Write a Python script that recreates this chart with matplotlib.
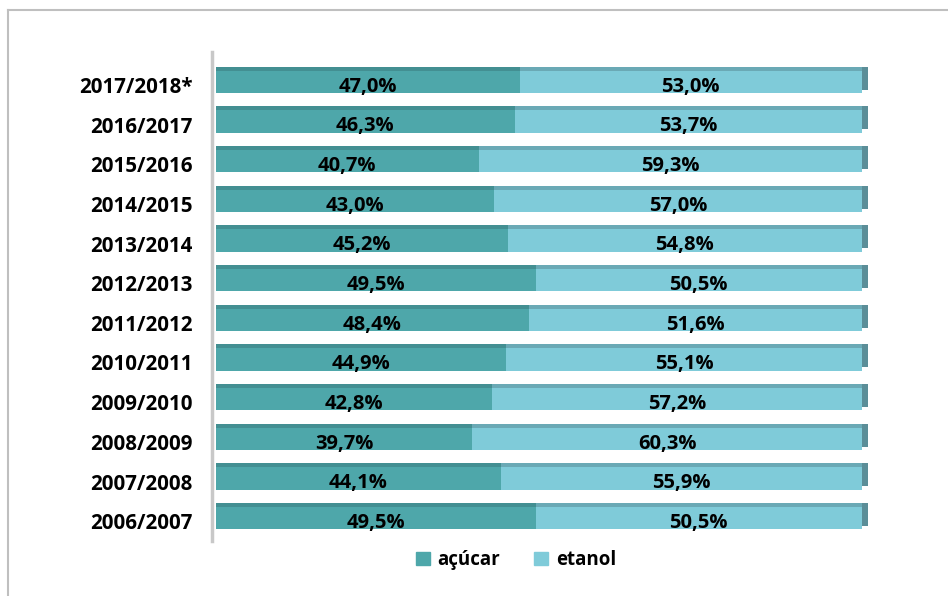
import matplotlib
matplotlib.use("Agg")
import matplotlib.pyplot as plt
import matplotlib.transforms as mtransforms
from matplotlib.lines import Line2D
from matplotlib.patches import Patch

categories = ["2006/2007", "2007/2008", "2008/2009", "2009/2010", "2010/2011",
              "2011/2012", "2012/2013", "2013/2014", "2014/2015", "2015/2016",
              "2016/2017", "2017/2018*"]
acucar = [49.5, 44.1, 39.7, 42.8, 44.9, 48.4, 49.5, 45.2, 43.0, 40.7, 46.3, 47.0]
etanol = [50.5, 55.9, 60.3, 57.2, 55.1, 51.6, 50.5, 54.8, 57.0, 59.3, 53.7, 53.0]
series_names = ["açúcar", "etanol"]

c_acu = "#4ea7aa"
c_eta = "#7fcbd9"
c_cap = "#5b8e98"

plt.rcParams['font.family'] = ['Open Sans', 'DejaVu Sans']

fig = plt.figure(figsize=(9.48, 5.96), dpi=100)
ax = fig.add_axes([212/948, 1-536/596, 659.6/948, 476/596])

y = list(range(len(categories)))
h = 0.66
ax.barh(y, acucar, height=h, color=c_acu, edgecolor="none", label=series_names[0])
ax.barh(y, etanol, left=acucar, height=h, color=c_eta, edgecolor="none", label=series_names[1])
# top shading strip
ax.barh([v + h/2 - 0.05 for v in y], acucar, height=0.1, color="#438f92", edgecolor="none")
ax.barh([v + h/2 - 0.05 for v in y], etanol, left=acucar, height=0.1, color="#6aa9b5", edgecolor="none")
# right end cap
tot = [a + e for a, e in zip(acucar, etanol)]
ax.barh([v + 0.04 for v in y], [1.0]*len(y), left=tot, height=h - 0.08, color=c_cap, edgecolor="none")

for i in y:
    ax.text(acucar[i]/2, i - 0.17, f"{acucar[i]:.1f}%".replace(".", ","),
            ha="center", va="center", fontsize=14.5, fontweight="bold", color="black")
    ax.text(acucar[i] + etanol[i]/2, i - 0.17, f"{etanol[i]:.1f}%".replace(".", ","),
            ha="center", va="center", fontsize=14.5, fontweight="bold", color="black")

ax.set_xlim(-0.6, 101.5)
ax.set_ylim(-0.5, len(categories) - 0.5)
ax.set_yticks(y)
ax.set_yticklabels(categories, fontsize=14.8, fontweight="bold")
ax.tick_params(axis="y", length=0, pad=14)
ax.set_xticks([])
for s in ax.spines.values():
    s.set_visible(False)
offset = mtransforms.ScaledTranslation(0, -5/100, fig.dpi_scale_trans)
for lab in ax.get_yticklabels():
    lab.set_transform(lab.get_transform() + offset)

# left wall
ax.plot([-0.6, -0.6], [-0.62, len(categories) - 0.3], color="#c8c8c8", lw=2.5, clip_on=False)

# legend
handles = [Patch(color=c_acu), Patch(color=c_eta)]
fig.legend(handles, series_names, loc="center", bbox_to_anchor=(516/948, 1-560/596),
           ncol=2, frameon=False, prop={"weight": "bold", "size": 13.5},
           handlelength=0.75, handleheight=0.75, handletextpad=0.4, columnspacing=1.8)

# outer frame lines
fig.add_artist(Line2D([8/948, 8/948], [0, 1-10/596], color="#bfbfbf", lw=1.5))
fig.add_artist(Line2D([8/948, 1], [1-10/596, 1-10/596], color="#bfbfbf", lw=1.5))

fig.savefig("out.png", dpi=100)
